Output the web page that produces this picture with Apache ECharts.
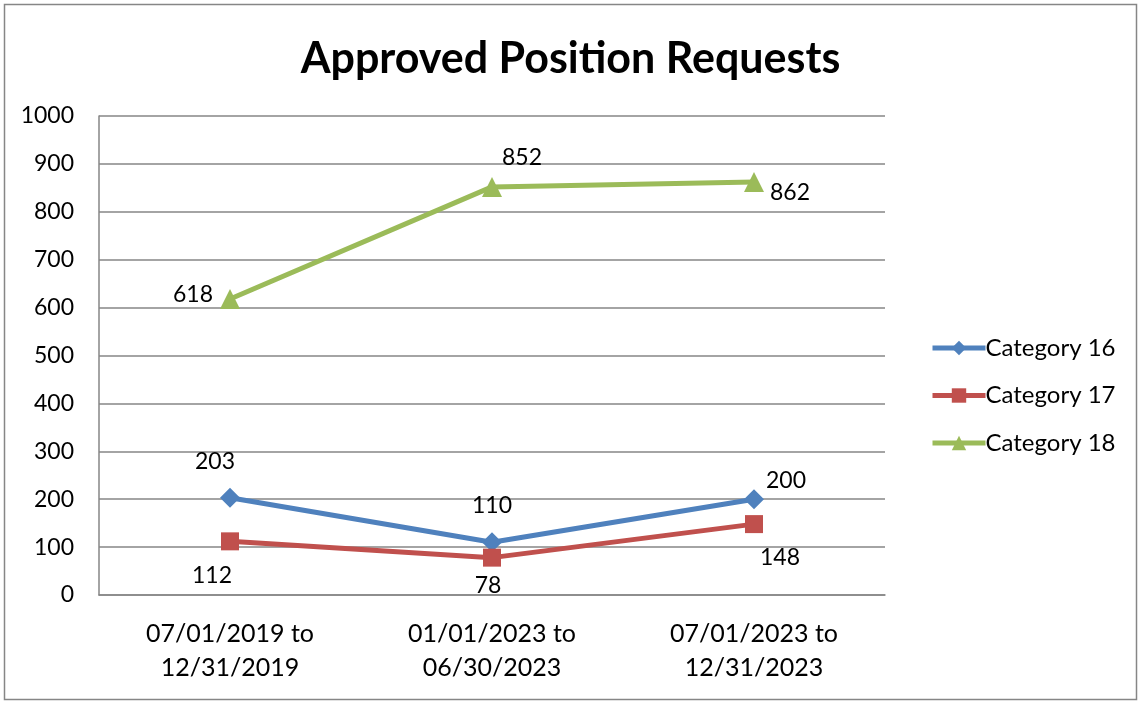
<!DOCTYPE html>
<html>
<head>
<meta charset="utf-8">
<script src="https://cdn.jsdelivr.net/npm/echarts@6/dist/echarts.min.js"></script>
<style>
  html, body { margin: 0; padding: 0; background: #fff; }
  #chart { width: 1141px; height: 704px; }
</style>
</head>
<body>
<div id="chart"></div>
<script>
// Chart data
const periods = ['07/01/2019 to\n12/31/2019', '01/01/2023 to\n06/30/2023', '07/01/2023 to\n12/31/2023'];
const category16 = [203, 110, 200];
const category17 = [112, 78, 148];
const category18 = [618, 852, 862];

const FONT = 'Lato, "Open Sans", sans-serif';

// label offsets (px from the marker), Excel-style placement
function withLabels(values, offsets) {
  return values.map((v, i) => ({
    value: v,
    label: { offset: offsets[i] }
  }));
}

const chart = echarts.init(document.getElementById('chart'));

const labelBase = {
  show: true,
  position: 'inside',
  align: 'center',
  verticalAlign: 'middle',
  color: '#000',
  fontFamily: FONT,
  fontSize: 23
};

const option = {
  animation: false,
  title: {
    text: 'Approved Position Requests',
    left: 'center',
    top: 33,
    textStyle: { fontFamily: FONT, fontSize: 43, fontWeight: 'bold', color: '#000' }
  },
  legend: {
    orient: 'vertical',
    left: 925,
    top: 331,
    itemGap: 23.5,
    itemWidth: 53,
    itemHeight: 18,
    lineStyle: { width: 5 },
    textStyle: { fontFamily: FONT, fontSize: 24, lineHeight: 24, color: '#000', padding: [0, 0, 0, -5] },
    data: ['Category 16', 'Category 17', 'Category 18']
  },
  grid: { left: 99, right: 256, top: 116, bottom: 109 },
  xAxis: {
    type: 'category',
    data: periods,
    boundaryGap: true,
    axisLine: { lineStyle: { color: '#868686', width: 1.5 } },
    axisTick: { show: false },
    axisLabel: { color: '#000', fontFamily: FONT, fontSize: 25, margin: 22, lineHeight: 34 }
  },
  yAxis: {
    type: 'value',
    min: 0,
    max: 1000,
    interval: 100,
    axisLine: { show: true, lineStyle: { color: '#868686', width: 1.5 } },
    axisTick: { show: false },
    splitLine: { lineStyle: { color: '#868686', width: 1.5 } },
    axisLabel: { color: '#000', fontFamily: FONT, fontSize: 23, margin: 25, formatter: v => String(v) }
  },
  series: [
    {
      name: 'Category 16',
      type: 'line',
      symbol: 'diamond',
      symbolSize: 20,
      color: '#4F81BD',
      lineStyle: { width: 5, color: '#4F81BD' },
      label: labelBase,
      data: withLabels(category16, [[-15, -36], [0, -37], [32, -19]])
    },
    {
      name: 'Category 17',
      type: 'line',
      symbol: 'rect',
      symbolSize: 18,
      color: '#C0504D',
      lineStyle: { width: 5, color: '#C0504D' },
      label: labelBase,
      data: withLabels(category17, [[-18, 34], [-4, 28], [26, 33]])
    },
    {
      name: 'Category 18',
      type: 'line',
      symbol: 'triangle',
      symbolSize: 20,
      color: '#9BBB59',
      lineStyle: { width: 5, color: '#9BBB59' },
      label: labelBase,
      data: withLabels(category18, [[-37, -4], [30, -29], [36, 10]])
    }
  ],
  graphic: [{
    type: 'rect',
    shape: { x: 4.5, y: 4.5, width: 1132, height: 695 },
    style: { fill: null, stroke: '#868686', lineWidth: 1.5 },
    silent: true
  }]
};

chart.setOption(option);
</script>
</body>
</html>
